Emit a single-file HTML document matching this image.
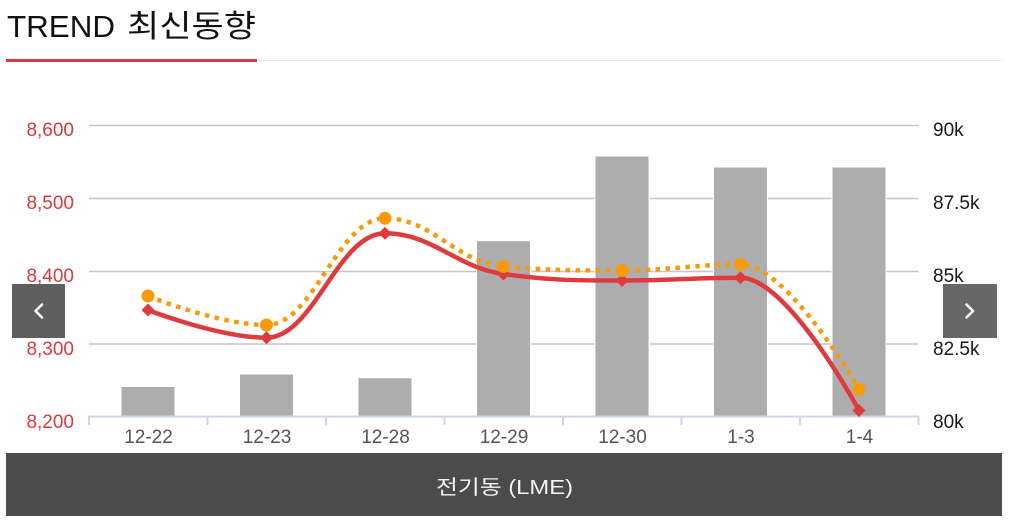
<!DOCTYPE html>
<html>
<head>
<meta charset="utf-8">
<style>
  html, body { margin: 0; padding: 0; background: #ffffff; }
  body { width: 1015px; height: 526px; overflow: hidden; }
  svg { display: block; }
  .lab { font-family: "Liberation Sans", "Noto Sans CJK KR", sans-serif; font-size: 19px; }
</style>
</head>
<body>
<svg width="1015" height="526" viewBox="0 0 1015 526" xmlns="http://www.w3.org/2000/svg">
  <!-- Title -->
  <text x="7" y="37" font-family="Liberation Sans, sans-serif" font-size="31" fill="#111" textLength="108" lengthAdjust="spacingAndGlyphs">TREND</text>
  <text x="127" y="37" font-family="Liberation Sans, Noto Sans CJK KR, sans-serif" font-size="31" fill="#111" textLength="129" lengthAdjust="spacingAndGlyphs">최신동향</text>
  <line x1="257" y1="60.5" x2="1002" y2="60.5" stroke="#d6d6d6" stroke-width="1" stroke-dasharray="1,1"/>
  <rect x="6" y="59" width="251" height="3" fill="#d83a3d"/>

  <!-- Gridlines -->
  <g stroke="#c6c6c6" stroke-width="1.5">
    <line x1="89" y1="125.5" x2="918.5" y2="125.5"/>
    <line x1="89" y1="198.5" x2="918.5" y2="198.5"/>
    <line x1="89" y1="271.5" x2="918.5" y2="271.5"/>
    <line x1="89" y1="344" x2="918.5" y2="344"/>
  </g>

  <!-- Bars -->
  <g fill="#adadad" stroke="#ffffff" stroke-width="1">
    <rect x="121" y="386.5" width="54" height="29.5"/>
    <rect x="239.5" y="374" width="54" height="42"/>
    <rect x="358" y="377.7" width="54" height="38.3"/>
    <rect x="476.5" y="240.7" width="54" height="175.3"/>
    <rect x="595" y="156" width="54" height="260"/>
    <rect x="713.5" y="167" width="54" height="249"/>
    <rect x="832" y="167" width="54" height="249"/>
  </g>

  <!-- X axis -->
  <g stroke="#ccd6eb" stroke-width="2">
    <line x1="89" y1="416.5" x2="918.5" y2="416.5"/>
    <line x1="89" y1="416" x2="89" y2="425"/>
    <line x1="207.5" y1="416" x2="207.5" y2="425"/>
    <line x1="326" y1="416" x2="326" y2="425"/>
    <line x1="444.5" y1="416" x2="444.5" y2="425"/>
    <line x1="563" y1="416" x2="563" y2="425"/>
    <line x1="681.5" y1="416" x2="681.5" y2="425"/>
    <line x1="800" y1="416" x2="800" y2="425"/>
    <line x1="918.5" y1="416" x2="918.5" y2="425"/>
  </g>

  <!-- Left axis labels -->
  <g class="lab" fill="#d63b3d" text-anchor="end">
    <text x="74" y="136">8,600</text>
    <text x="74" y="209">8,500</text>
    <text x="74" y="282">8,400</text>
    <text x="74" y="355">8,300</text>
    <text x="74" y="428">8,200</text>
  </g>

  <!-- Right axis labels -->
  <g class="lab" fill="#1a1a1a" text-anchor="start">
    <text x="933" y="136">90k</text>
    <text x="933" y="209">87.5k</text>
    <text x="933" y="282">85k</text>
    <text x="933" y="355">82.5k</text>
    <text x="933" y="428">80k</text>
  </g>

  <!-- X labels -->
  <g class="lab" fill="#555555" text-anchor="middle">
    <text x="148.5" y="443">12-22</text>
    <text x="267" y="443">12-23</text>
    <text x="385.5" y="443">12-28</text>
    <text x="504" y="443">12-29</text>
    <text x="622.5" y="443">12-30</text>
    <text x="741" y="443">1-3</text>
    <text x="859.5" y="443">1-4</text>
  </g>

  <!-- Red series -->
  <path d="M148,310 C148,310 219.1,337.7 266.5,337.7 C313.9,337.7 337.6,233.3 385,233.3 C432.4,233.3 456.1,267.5 503.5,274 C550.9,280.5 574.6,280.5 622,280.5 C669.4,280.5 693.1,277.7 740.5,277.7 C787.9,277.7 859,410.5 859,410.5"
        fill="none" stroke="#df3a3e" stroke-width="4.5" stroke-linejoin="round" stroke-linecap="round"/>

  <!-- Orange series -->
  <path d="M148,296 C148,296 219.1,325 266.5,325 C313.9,325 337.6,218.3 385,218.3 C432.4,218.3 456.1,262.5 503.5,266.5 C550.9,270.5 574.6,270.5 622,270.5 C669.4,270.5 693.1,264.5 740.5,264.5 C787.9,264.5 859,389.5 859,389.5"
        fill="none" stroke="#f99a0c" stroke-width="4.5" stroke-dasharray="4.5,5.5"/>

  <!-- Red diamonds -->
  <g fill="#df3a3e">
    <path d="M148,303.5 L154.5,310 L148,316.5 L141.5,310 Z"/>
    <path d="M266.5,331.2 L273,337.7 L266.5,344.2 L260,337.7 Z"/>
    <path d="M385,226.8 L391.5,233.3 L385,239.8 L378.5,233.3 Z"/>
    <path d="M503.5,267.5 L510,274 L503.5,280.5 L497,274 Z"/>
    <path d="M622,274 L628.5,280.5 L622,287 L615.5,280.5 Z"/>
    <path d="M740.5,271.2 L747,277.7 L740.5,284.2 L734,277.7 Z"/>
    <path d="M859,404 L865.5,410.5 L859,417 L852.5,410.5 Z"/>
  </g>

  <!-- Orange circles -->
  <g fill="#f99a0c">
    <circle cx="148" cy="296" r="6.5"/>
    <circle cx="266.5" cy="325" r="6.5"/>
    <circle cx="385" cy="218.3" r="6.5"/>
    <circle cx="503.5" cy="266.5" r="6.5"/>
    <circle cx="622" cy="270.5" r="6.5"/>
    <circle cx="740.5" cy="264.5" r="6.5"/>
    <circle cx="859" cy="389.5" r="6.5"/>
  </g>

  <!-- Nav buttons -->
  <rect x="12" y="284" width="53" height="54" fill="#5f5f5f"/>
  <path d="M42,304.5 L35.5,311 L42,317.5" fill="none" stroke="#ffffff" stroke-width="2.5" stroke-linecap="round" stroke-linejoin="round"/>
  <rect x="943" y="284" width="54" height="54" fill="#676767"/>
  <path d="M966.5,304.5 L973,311 L966.5,317.5" fill="none" stroke="#ffffff" stroke-width="2.5" stroke-linecap="round" stroke-linejoin="round"/>

  <!-- Bottom bar -->
  <rect x="6" y="453" width="996" height="63" fill="#4b4b4b"/>
  <text x="436" y="494" font-family="Liberation Sans, Noto Sans CJK KR, sans-serif" font-size="20" fill="#f4f4f4" textLength="137" lengthAdjust="spacingAndGlyphs">전기동 (LME)</text>
</svg>
</body>
</html>
